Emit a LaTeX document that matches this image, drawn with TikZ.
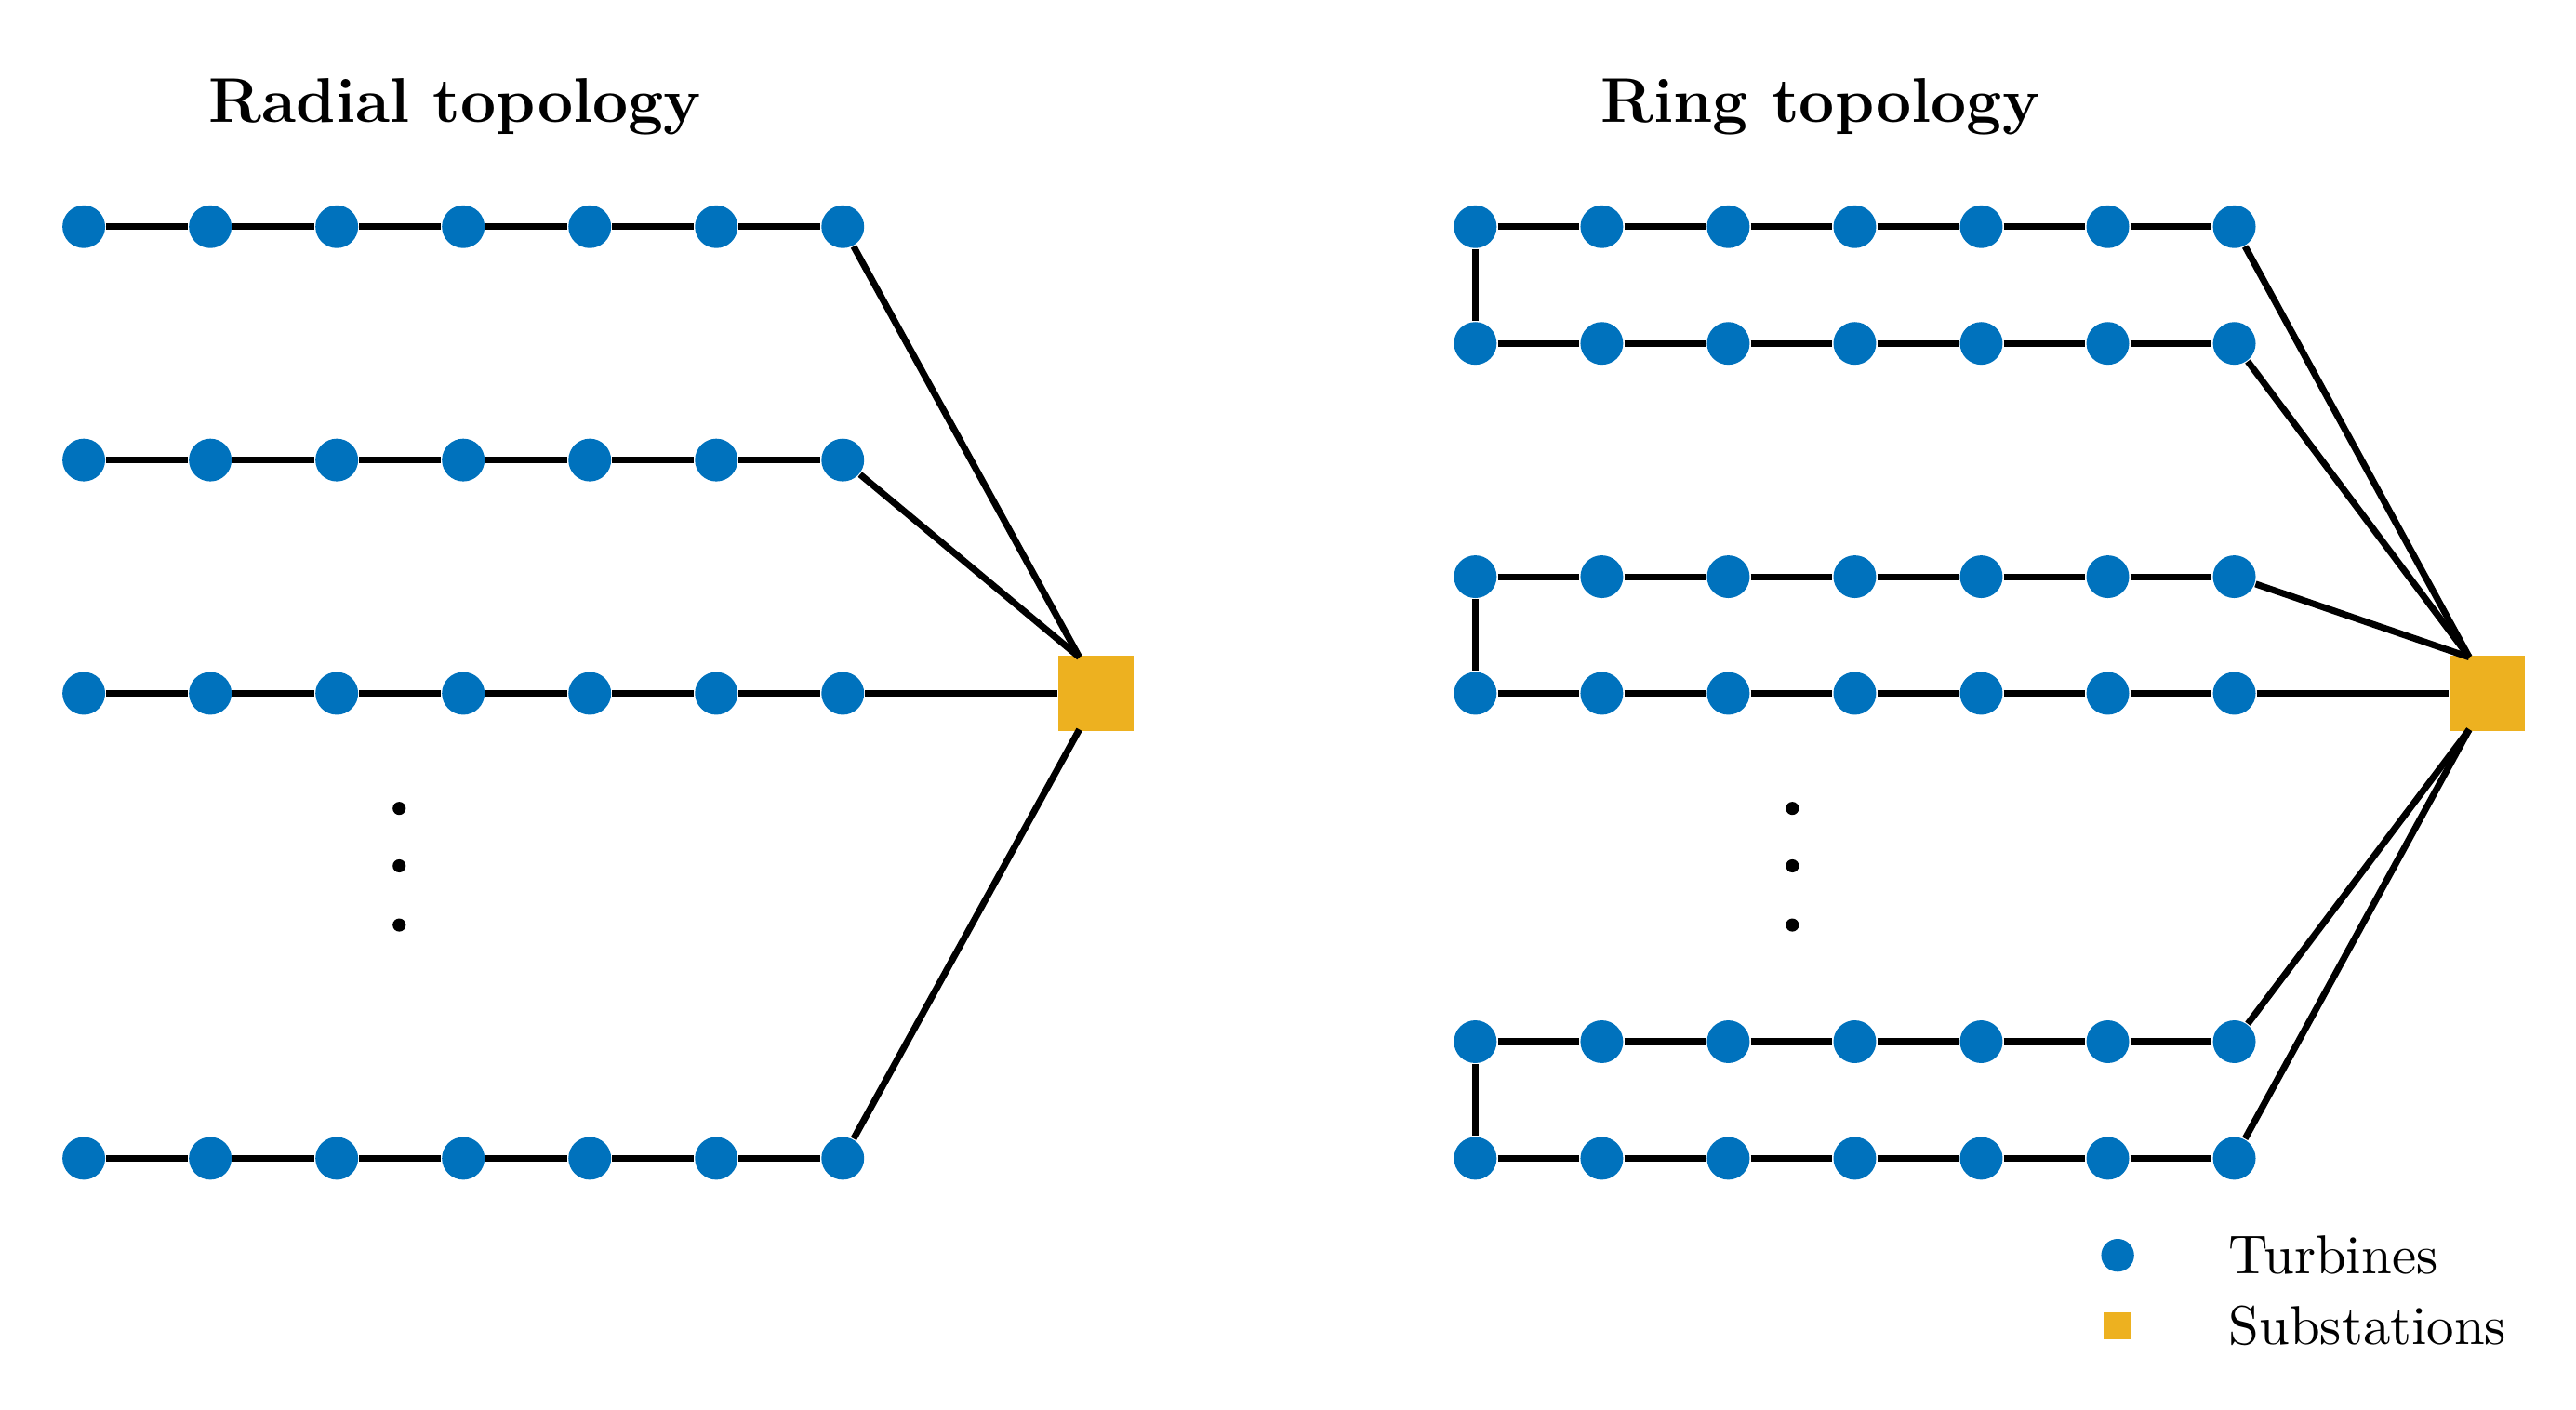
\documentclass[tikz,border=0pt]{standalone}
\begin{document}
\begin{tikzpicture}[x=0.3pt,y=-0.3pt,
  turb/.style={circle,fill={rgb,255:red,0;green,114;blue,189},inner sep=0pt,minimum size=7.8pt},
  sub/.style={rectangle,fill={rgb,255:red,237;green,177;blue,32},inner sep=0pt,minimum size=13.8pt},
  cab/.style={line width=1.2pt,black},
  ttl/.style={font=\bfseries\fontsize{11.5}{13}\selectfont}]
\useasboundingbox (0,0) rectangle (1568,858);
\node[ttl] (t1) at (277,65) {Radial topology};
\node[ttl] (t2) at (1108,65) {Ring topology};
% radial
\foreach \r/\y in {a/138,b/280,c/422,d/705}{
  \foreach \i/\x in {1/51,2/128,3/205,4/282,5/359,6/436,7/513}{
    \node[turb] (L\r\i) at (\x,\y) {};}
  \foreach \i [evaluate=\i as \j using int(\i+1)] in {1,...,6}{
    \draw[cab] (L\r\i) -- (L\r\j);}
}
\node[sub] (S1) at (667,422) {};
\coordinate (S1t) at (657,400);
\coordinate (S1b) at (657,444);
\draw[cab] (La7) -- (S1t);
\draw[cab] (Lb7) -- (S1t);
\draw[cab] (Lc7) -- (S1);
\draw[cab] (Ld7) -- (S1b);
\foreach \y [count=\k] in {492,527,563}{\fill (243,\y) circle (1.2pt);}
% ring
\foreach \r/\y in {a/138,b/209,c/351,d/422,e/634,f/705}{
  \foreach \i/\x in {1/898,2/975,3/1052,4/1129,5/1206,6/1283,7/1360}{
    \node[turb] (R\r\i) at (\x,\y) {};}
  \foreach \i [evaluate=\i as \j using int(\i+1)] in {1,...,6}{
    \draw[cab] (R\r\i) -- (R\r\j);}
}
\draw[cab] (Ra1) -- (Rb1);
\draw[cab] (Rc1) -- (Rd1);
\draw[cab] (Re1) -- (Rf1);
\node[sub] (S2) at (1514,422) {};
\coordinate (S2t) at (1503,400);
\coordinate (S2b) at (1503,444);
\draw[cab] (Ra7) -- (S2t);
\draw[cab] (Rb7) -- (S2t);
\draw[cab] (Rc7) -- (S2t);
\draw[cab] (Rd7) -- (S2);
\draw[cab] (Re7) -- (S2b);
\draw[cab] (Rf7) -- (S2b);
\foreach \y in {492,527,563}{\fill (1091,\y) circle (1.2pt);}
% legend
\node[turb,minimum size=6pt] (lg1) at (1289,764) {};
\node[sub,minimum size=5pt] (lg2) at (1289,807) {};
\node[anchor=west,inner sep=0pt] (lt1) at (1356,764) {Turbines};
\node[anchor=west,inner sep=0pt] (lt2) at (1356,807) {Substations};
\end{tikzpicture}
\end{document}
